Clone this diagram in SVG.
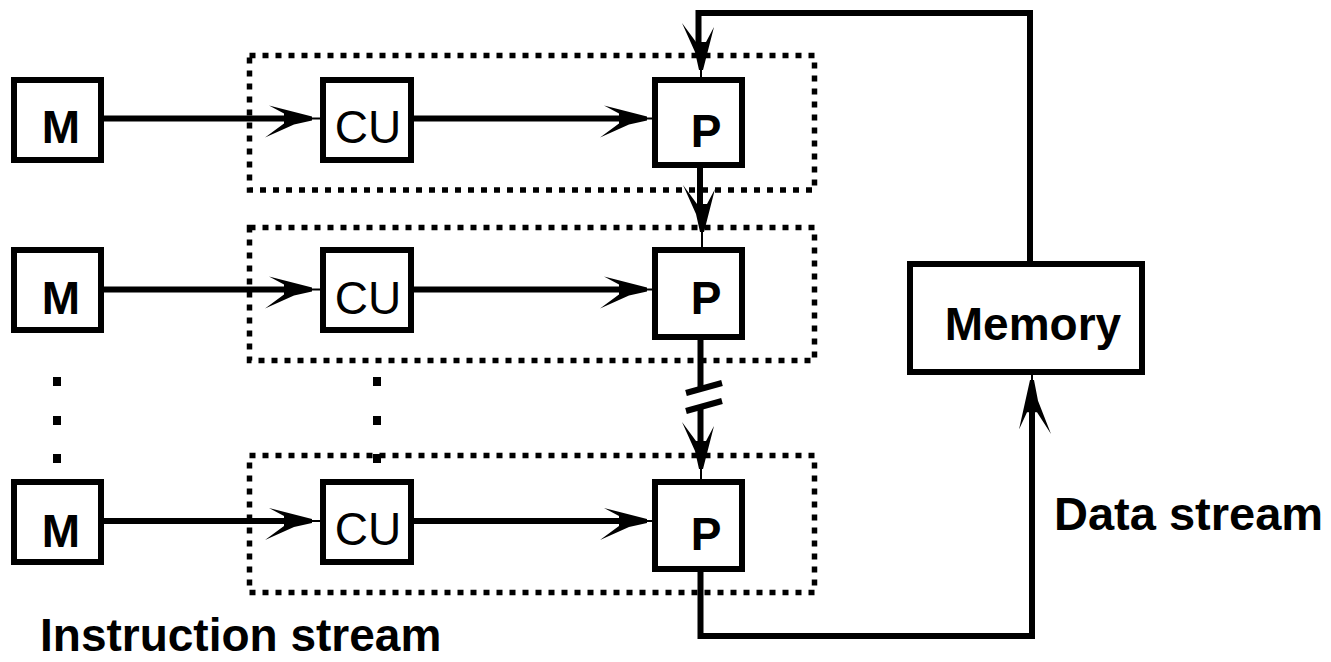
<svg xmlns="http://www.w3.org/2000/svg" xmlns:xlink="http://www.w3.org/1999/xlink" width="1331" height="662" viewBox="0 0 1331 662">
<style>
.box{fill:#fff;stroke:#000;stroke-width:6}
.grp{fill:none;stroke:#000;stroke-width:5.5;stroke-dasharray:6 7}
.ln{fill:none;stroke:#000;stroke-width:6}
.thin{fill:none;stroke:#000;stroke-width:2}
.ah{fill:#000;stroke:none}
.dot{fill:#000}
.b{font-family:"Liberation Sans",Arial,Helvetica,sans-serif;font-weight:bold;font-size:46px;fill:#000}
.r{font-family:"Liberation Sans",Arial,Helvetica,sans-serif;font-size:46px;fill:#000}
</style>
<defs>
<path id="arrow" d="M0,-2 L-43,-13 L-28,-5 L-28,5 L-47,19 L-18,6 L0,2 Z"/>
</defs>
<rect width="1331" height="662" fill="#fff"/>

<g id="groups">
<rect class="grp" x="249.5" y="55.5" width="565" height="134.5"/>
<rect class="grp" x="249.5" y="227.5" width="565" height="133"/>
<rect class="grp" x="249.5" y="455.5" width="565" height="137"/>
</g>

<g id="ellipsis">
<rect class="dot" x="53" y="377" width="8" height="9"/>
<rect class="dot" x="53" y="416" width="8" height="9"/>
<rect class="dot" x="53" y="454" width="8" height="9"/>
<rect class="dot" x="373" y="377" width="8" height="9"/>
<rect class="dot" x="373" y="416" width="8" height="9"/>
<rect class="dot" x="373" y="454" width="8" height="9"/>
</g>

<g id="connectors">
<line class="ln" x1="104" y1="118.5" x2="290" y2="118.5"/>
<use xlink:href="#arrow" class="ah" transform="translate(312,118.5)"/>
<line class="thin" x1="310" y1="118.5" x2="320" y2="118.5"/>
<line class="ln" x1="414" y1="118.5" x2="625" y2="118.5"/>
<use xlink:href="#arrow" class="ah" transform="translate(647,118.5)"/>
<line class="thin" x1="645" y1="118.5" x2="652" y2="118.5"/>

<line class="ln" x1="104" y1="289.5" x2="290" y2="289.5"/>
<use xlink:href="#arrow" class="ah" transform="translate(312,289.5)"/>
<line class="thin" x1="310" y1="289.5" x2="320" y2="289.5"/>
<line class="ln" x1="414" y1="289.5" x2="625" y2="289.5"/>
<use xlink:href="#arrow" class="ah" transform="translate(647,289.5)"/>
<line class="thin" x1="645" y1="289.5" x2="652" y2="289.5"/>

<line class="ln" x1="104" y1="521" x2="290" y2="521"/>
<use xlink:href="#arrow" class="ah" transform="translate(312,521)"/>
<line class="thin" x1="310" y1="521" x2="320" y2="521"/>
<line class="ln" x1="414" y1="521" x2="625" y2="521"/>
<use xlink:href="#arrow" class="ah" transform="translate(647,521)"/>
<line class="thin" x1="645" y1="521" x2="652" y2="521"/>

<path class="ln" d="M1030,261 V13 H698.5 V45"/>
<use xlink:href="#arrow" class="ah" transform="translate(701,70) rotate(90)"/>
<line class="thin" x1="701" y1="68" x2="701" y2="77"/>

<line class="ln" x1="700" y1="168" x2="700" y2="205"/>
<use xlink:href="#arrow" class="ah" transform="translate(702,232) rotate(90)"/>
<line class="thin" x1="702" y1="230" x2="702" y2="247"/>

<line class="ln" x1="700.5" y1="340" x2="700.5" y2="389"/>
<line class="ln" x1="686" y1="393" x2="722" y2="383"/>
<line class="ln" x1="686" y1="411" x2="722" y2="401"/>
<line class="ln" x1="700.5" y1="406" x2="700.5" y2="445"/>
<use xlink:href="#arrow" class="ah" transform="translate(701,469) rotate(90)"/>
<line class="thin" x1="701" y1="467" x2="701" y2="479"/>

<path class="ln" d="M700.5,572 V636 H1032 V410"/>
<use xlink:href="#arrow" class="ah" transform="translate(1032,380) rotate(-90) scale(1.15,1)"/>
<line class="thin" x1="1032" y1="382" x2="1032" y2="375"/>
</g>

<g id="m1"><rect class="box" x="14" y="80" width="87" height="80"/><text class="b" x="61" y="143" text-anchor="middle">M</text></g>
<g id="m2"><rect class="box" x="14" y="250" width="87" height="80"/><text class="b" x="61" y="314" text-anchor="middle">M</text></g>
<g id="m3"><rect class="box" x="14" y="482" width="87" height="80"/><text class="b" x="61" y="547" text-anchor="middle">M</text></g>

<g id="cu1"><rect class="box" x="323" y="80" width="88" height="80"/><text class="r" x="368" y="143" text-anchor="middle">CU</text></g>
<g id="cu2"><rect class="box" x="323" y="250" width="88" height="80"/><text class="r" x="368" y="314" text-anchor="middle">CU</text></g>
<g id="cu3"><rect class="box" x="323" y="482" width="88" height="80"/><text class="r" x="368" y="545" text-anchor="middle">CU</text></g>

<g id="p1"><rect class="box" x="655" y="80" width="87" height="85"/><text class="b" x="706" y="147" text-anchor="middle">P</text></g>
<g id="p2"><rect class="box" x="655" y="250" width="87" height="87"/><text class="b" x="706" y="314" text-anchor="middle">P</text></g>
<g id="p3"><rect class="box" x="655" y="482" width="87" height="87"/><text class="b" x="706" y="550" text-anchor="middle">P</text></g>

<g id="memory"><rect class="box" x="910" y="264" width="232" height="108"/><text class="b" x="1033" y="340" text-anchor="middle">Memory</text></g>

<g id="labels">
<text class="b" x="1054" y="530" style="font-size:47px">Data stream</text>
<text class="b" x="40" y="651" style="font-size:46px">Instruction stream</text>
</g>
</svg>
